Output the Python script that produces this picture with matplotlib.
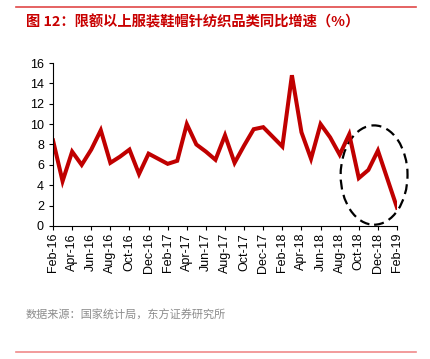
import numpy as np
import matplotlib
matplotlib.use('Agg')
import matplotlib.pyplot as plt
from matplotlib.patches import Ellipse
from matplotlib.lines import Line2D

plt.rcParams['font.family'] = ['Liberation Sans', 'Noto Sans CJK SC', 'DejaVu Sans']

# monthly readings (Jan is merged with Feb, so there is no Jan point)
months = ['2016-02', '2016-03', '2016-04', '2016-05', '2016-06', '2016-07',
          '2016-08', '2016-09', '2016-10', '2016-11', '2016-12',
          '2017-02', '2017-03', '2017-04', '2017-05', '2017-06', '2017-07',
          '2017-08', '2017-09', '2017-10', '2017-11', '2017-12',
          '2018-02', '2018-03', '2018-04', '2018-05', '2018-06', '2018-07',
          '2018-08', '2018-09', '2018-10', '2018-11', '2018-12',
          '2019-02']
growth = [8.4, 4.4, 7.3, 6.0, 7.5, 9.4,
          6.2, 6.8, 7.5, 5.1, 7.1,
          6.1, 6.4, 10.0, 8.0, 7.3, 6.5,
          8.9, 6.2, 7.9, 9.5, 9.7,
          7.8, 14.8, 9.2, 6.6, 10.0, 8.7,
          7.0, 9.0, 4.7, 5.5, 7.4,
          1.8]
tick_labels = ['Feb-16', 'Apr-16', 'Jun-16', 'Aug-16', 'Oct-16', 'Dec-16',
               'Feb-17', 'Apr-17', 'Jun-17', 'Aug-17', 'Oct-17', 'Dec-17',
               'Feb-18', 'Apr-18', 'Jun-18', 'Aug-18', 'Oct-18', 'Dec-18',
               'Feb-19']

title = '图 12：限额以上服装鞋帽针纺织品类同比增速（%）'
source = '数据来源：国家统计局，东方证券研究所'


def month_index(s, start='2016-02'):
    y, m = map(int, s.split('-'))
    y0, m0 = map(int, start.split('-'))
    return (y - y0) * 12 + (m - m0)


x = np.array([month_index(m) for m in months])
tick_pos = np.arange(0, 2 * len(tick_labels), 2)

fig = plt.figure(figsize=(4.3, 3.59), dpi=100)
ax = fig.add_axes([0.1233, 0.3705, 0.800, 0.454])

ax.plot(x, growth, color='#C00000', lw=2.9, solid_joinstyle='miter')

# dashed ellipse around the latest months
ax.add_patch(Ellipse((33.6, 5.0), 7.0, 9.75, fill=False, edgecolor='black',
                     lw=1.6, linestyle=(0, (4.5, 2.5)), clip_on=False))

ax.set_xlim(0, 36)
ax.set_ylim(0, 16)
ax.set_yticks(np.arange(0, 17, 2))
ax.set_xticks(tick_pos)
ax.set_xticklabels(tick_labels, rotation=90)
ax.tick_params(axis='both', labelsize=9, direction='out', length=3, width=0.8, colors='black')
ax.tick_params(axis='x', pad=2)
for side in ('top', 'right'):
    ax.spines[side].set_visible(False)
for side in ('left', 'bottom'):
    ax.spines[side].set_linewidth(0.8)

fig.text(26 / 430, 1 - 22.5 / 359, title, color='#C80000', fontsize=10.3, fontweight='bold',
         family=['Noto Sans CJK SC', 'DejaVu Sans'], va='center', ha='left')
fig.text(26 / 430, 1 - 315 / 359, source, color='#8c8c8c', fontsize=8,
         family=['Noto Sans CJK SC', 'DejaVu Sans'], va='center', ha='left')

fig.add_artist(Line2D([16 / 430, 416 / 430], [1 - 7.3 / 359] * 2, color='#E04848', lw=1.2))
fig.add_artist(Line2D([16 / 430, 416 / 430], [1 - 351.7 / 359] * 2, color='#F08A8A', lw=1.2))

fig.savefig('out.png', dpi=100)
